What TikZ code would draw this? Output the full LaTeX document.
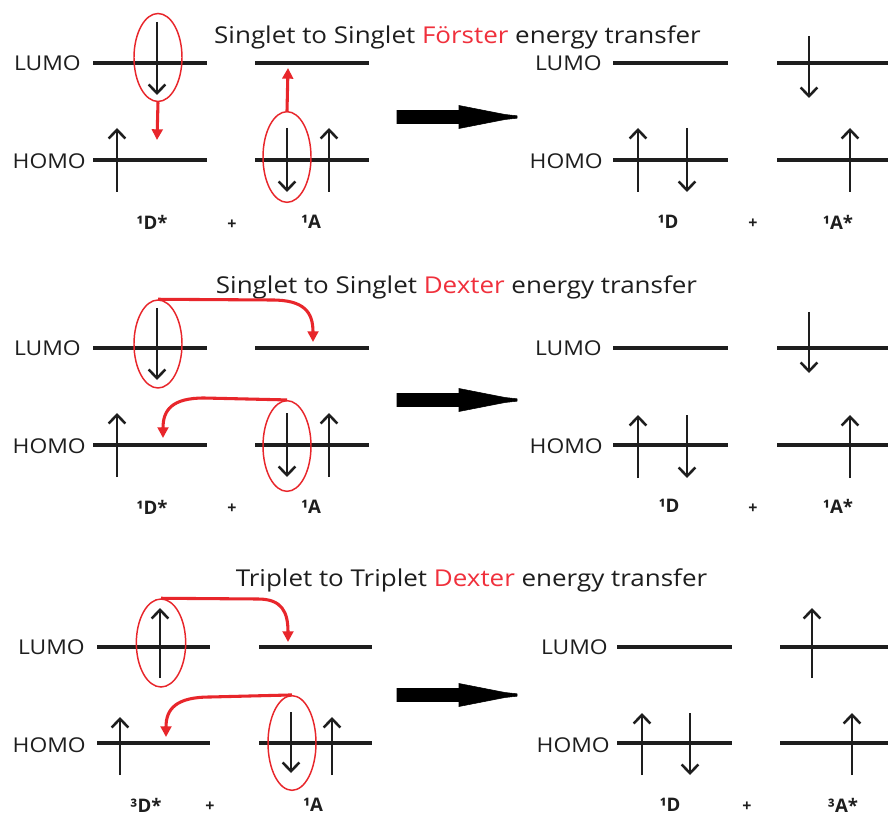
\documentclass[tikz,border=0pt]{standalone}
\usepackage{fontspec}
\setmainfont{Open Sans}
\newfontfamily\widefont{Open Sans}[FakeStretch=1.12]
\usetikzlibrary{arrows.meta,shapes.geometric}
\definecolor{ink}{HTML}{1E1E1E}
\definecolor{redw}{HTML}{F0303C}
\definecolor{reda}{HTML}{E8262B}
\tikzset{
  level/.style={line width=3.4pt, ink},
  spin/.style={line width=1.9pt, ink, -{Straight Barb[length=6.5pt,width=12.5pt,line width=1.9pt]}},
  orb/.style={ellipse, draw=reda, line width=1.1pt, minimum width=36pt, minimum height=66pt, inner sep=0pt},
  transfer/.style={line width=2.3pt, reda, -{Triangle[length=8pt,width=8pt]}},
  lbl/.style={font=\widefont\fontsize{15.3}{15}\selectfont, ink, inner sep=0pt, anchor=east},
  title/.style={font=\widefont\fontsize{17.4}{18}\selectfont, ink, inner sep=0pt},
  spec/.style={font=\bfseries\fontsize{14}{14}\selectfont, ink, inner sep=0pt},
  plus/.style={font=\bfseries\fontsize{12}{12}\selectfont, ink, inner sep=0pt},
  bigarrow/.style={fill=black, draw=black, line width=0.4pt}
}
\newcommand{\bigarr}[2]{% name, y
  \fill[bigarrow] (397,#2-6.5) -- (459,#2-6.5) -- (459,#2-11.5) -- (505,#2-2.5) -- (517,#2-1.2)
     -- (517,#2+1.2) -- (505,#2+2.5) -- (459,#2+11.5) -- (459,#2+6.5) -- (397,#2+6.5) -- cycle;
  \coordinate (#1) at (457,#2);}
\begin{document}
\begin{tikzpicture}[x=0.75pt,y=-0.75pt]
\useasboundingbox[fill=white] (0,0) rectangle (888,816);

%================ Panel 1: Singlet to Singlet Förster =================
\node[title] (t1) at (457.5,37) {Singlet to Singlet \textcolor{redw}{Förster} energy transfer};
\node[lbl] (l1L) at (81,63) {LUMO};
\node[lbl] (l1H) at (86,161) {HOMO};
\node[lbl] (r1L) at (602,63) {LUMO};
\node[lbl] (r1H) at (603,161) {HOMO};
% levels
\draw[level] (93,63) coordinate (d1La) -- (207,63) coordinate (d1Lb);
\draw[level] (93,160) coordinate (d1Ha) -- (207,160) coordinate (d1Hb);
\draw[level] (255,63) coordinate (a1La) -- (369,63) coordinate (a1Lb);
\draw[level] (255,160) coordinate (a1Ha) -- (369,160) coordinate (a1Hb);
\draw[level] (613,63) -- (728,63);
\draw[level] (613,160) -- (728,160);
\draw[level] (777,63) -- (890,63);
\draw[level] (777,160) -- (890,160);
% spins
\draw[spin] (157,22) -- (157,95);
\draw[spin] (117,192) -- (117,128);
\draw[spin] (287,128) -- (287,192);
\draw[spin] (329,192) -- (329,128);
\draw[spin] (638,192) -- (638,128);
\draw[spin] (687,128) -- (687,192);
\draw[spin] (809,36) -- (809,98);
\draw[spin] (850,192) -- (850,128);
% orbits
\node[orb] (e1) at (158,57.5) {};
\node[orb, minimum height=68pt] (e2) at (287,157) {};
\coordinate (p1a) at (157,140);
\coordinate (p1b) at (288,68);
\draw[transfer] (e1.south) -- (p1a);
\draw[transfer] (e2.north) -- (p1b);
\bigarr{g1}{117}
\node[spec] (s1a) at (152,222) {¹D*};
\node[plus] (s1b) at (232,225) {+};
\node[spec] (s1c) at (311,222) {¹A};
\node[spec] (s1d) at (668,222) {¹D};
\node[plus] (s1e) at (753,224) {+};
\node[spec] (s1f) at (838,222) {¹A*};

%================ Panel 2: Singlet to Singlet Dexter =================
\node[title] (t2) at (456.5,287) {Singlet to Singlet \textcolor{redw}{Dexter} energy transfer};
\node[lbl] (l2L) at (81,348) {LUMO};
\node[lbl] (l2H) at (86,446) {HOMO};
\node[lbl] (r2L) at (602,348) {LUMO};
\node[lbl] (r2H) at (603,446) {HOMO};
\draw[level] (93,348) -- (207,348);
\draw[level] (93,445) -- (207,445);
\draw[level] (255,348) -- (369,348);
\draw[level] (255,445) -- (369,445);
\draw[level] (613,348) -- (728,348);
\draw[level] (613,445) -- (728,445);
\draw[level] (777,348) -- (890,348);
\draw[level] (777,445) -- (890,445);
\draw[spin] (157,308) -- (157,380);
\draw[spin] (117,477) -- (117,413);
\draw[spin] (287,413) -- (287,477);
\draw[spin] (329,477) -- (329,413);
\draw[spin] (638,478) -- (638,415);
\draw[spin] (687,415) -- (687,478);
\draw[spin] (809,312) -- (809,373);
\draw[spin] (850,478) -- (850,415);
\node[orb] (e3) at (158,344) {};
\node[orb, minimum height=68pt] (e4) at (287,446) {};
\coordinate (p2a) at (313,342);
\coordinate (p2b) at (163,438);
\draw[transfer] (e3.north) -- (272,300) .. controls (304,300) and (313,312) .. (p2a);
\draw[transfer] (e4.north) -- (204,398) .. controls (172,398) and (163,410) .. (p2b);
\bigarr{g2}{400}
\node[spec] (s2a) at (152,507) {¹D*};
\node[plus] (s2b) at (232,509) {+};
\node[spec] (s2c) at (311,507) {¹A};
\node[spec] (s2d) at (669,506) {¹D};
\node[plus] (s2e) at (753,509) {+};
\node[spec] (s2f) at (838,506) {¹A*};

%================ Panel 3: Triplet to Triplet Dexter =================
\node[title] (t3) at (471.5,580) {Triplet to Triplet \textcolor{redw}{Dexter} energy transfer};
\node[lbl] (l3L) at (85,647) {LUMO};
\node[lbl] (l3H) at (86,745) {HOMO};
\node[lbl] (r3L) at (608,647) {LUMO};
\node[lbl] (r3H) at (610,745) {HOMO};
\draw[level] (97,647) -- (210,647);
\draw[level] (97,743) -- (210,743);
\draw[level] (259,647) -- (372,647);
\draw[level] (259,743) -- (372,743);
\draw[level] (617,647) -- (732,647);
\draw[level] (617,743) -- (732,743);
\draw[level] (780,647) -- (890,647);
\draw[level] (780,743) -- (890,743);
\draw[spin] (160,678) -- (160,608);
\draw[spin] (120,775) -- (120,717);
\draw[spin] (291,712) -- (291,773);
\draw[spin] (332,775) -- (332,717);
\draw[spin] (642,775) -- (642,713);
\draw[spin] (690,713) -- (690,775);
\draw[spin] (812,678) -- (812,608);
\draw[spin] (852,775) -- (852,713);
\node[orb, minimum width=37pt] (e5) at (161,643) {};
\node[orb, minimum height=71pt] (e6) at (292,743) {};
\coordinate (p3a) at (288,642);
\coordinate (p3b) at (166,737);
\draw[transfer] (e5.north) -- (258,599) .. controls (282,599) and (288,612) .. (p3a);
\draw[transfer] (e6.north) -- (210,697) .. controls (176,697) and (166,709) .. (p3b);
\bigarr{g3}{695}
\node[spec] (s3a) at (146,805) {³D*};
\node[plus] (s3b) at (210,807) {+};
\node[spec] (s3c) at (313,805) {¹A};
\node[spec] (s3d) at (670,805) {¹D};
\node[plus] (s3e) at (747,807) {+};
\node[spec] (s3f) at (843,805) {³A*};
\end{tikzpicture}
\end{document}
